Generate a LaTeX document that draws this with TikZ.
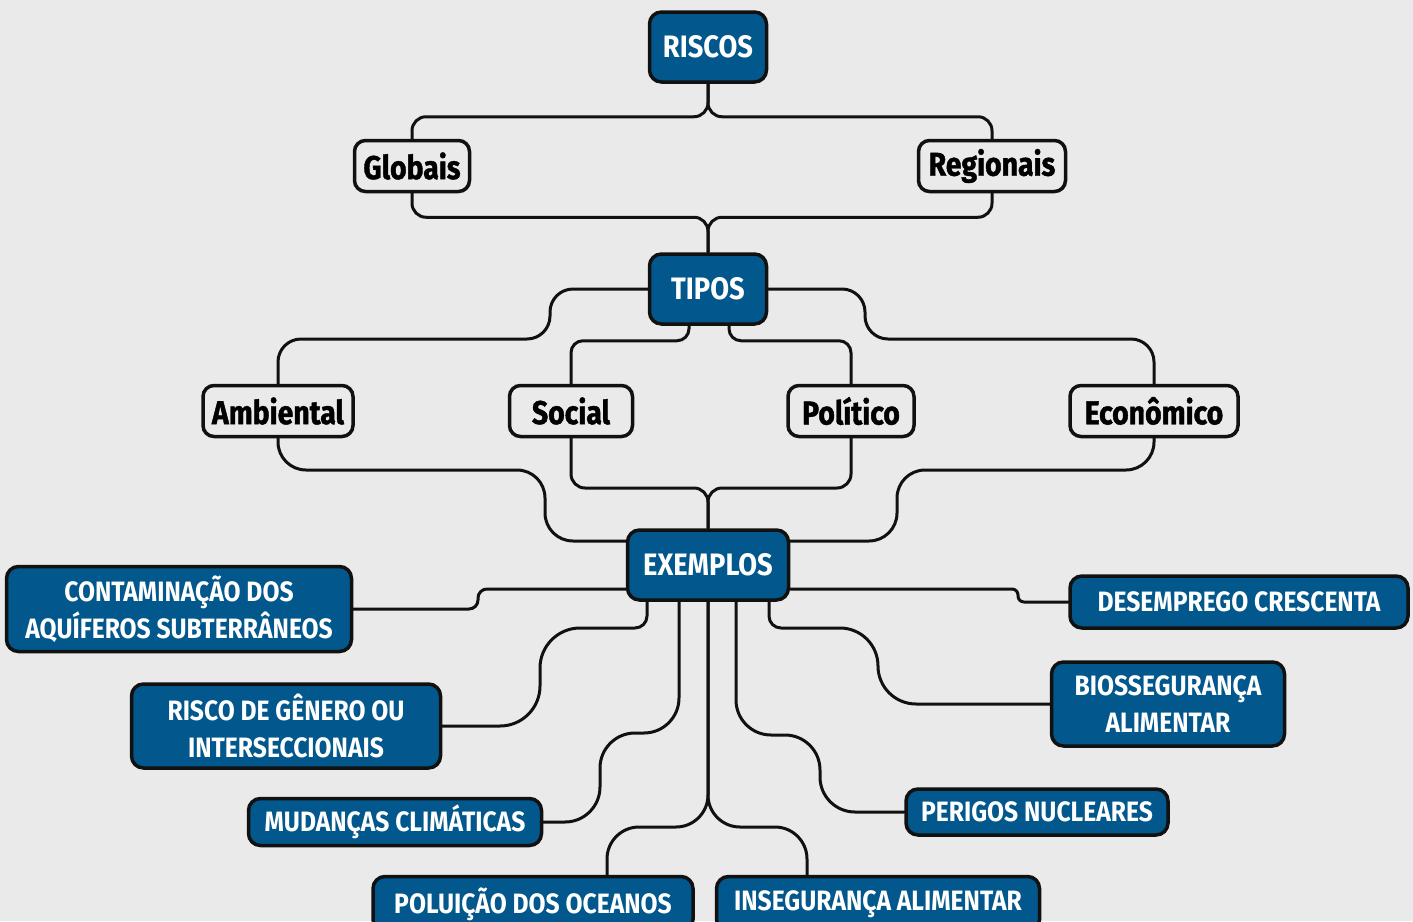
\documentclass[tikz,border=0pt]{standalone}
\usepackage{fontspec}
\usepackage{tikz}
\usetikzlibrary{positioning, calc}
\newfontfamily\boxfont[FakeStretch=0.88]{Fira Sans}
\newfontfamily\tagfont[FakeStretch=0.86, FakeBold=1.2]{Fira Sans}
\definecolor{riskBlue}{HTML}{02588C}
\definecolor{paperGray}{HTML}{EAEAEA}
\definecolor{lineBlack}{HTML}{111111}

\begin{document}
\begin{tikzpicture}[
    x=1pt, y=-1pt,
    hub/.style={draw=lineBlack, line width=3.5pt, rounded corners=12pt, fill=riskBlue, text=white, align=center, font=\boxfont\bfseries\fontsize{31}{37}\selectfont},
    item/.style={hub, font=\boxfont\bfseries\fontsize{28}{37}\selectfont},
    tag/.style={draw=lineBlack, line width=3.5pt, rounded corners=11pt, fill=paperGray, text=black, align=center, font=\tagfont\bfseries\fontsize{33}{37}\selectfont},
    link/.style={draw=lineBlack, line width=3pt, line cap=round},
]
    \clip (0,0) rectangle (1413,921);
    \fill[paperGray] (0,0) rectangle (1413,921);

    % Top levels
    \node[hub, minimum width=117pt, minimum height=70pt] (riscos) at (708,47) {RISCOS};
    \node[tag, minimum width=115pt, minimum height=51pt] (globais) at (412,166) {Globais};
    \node[tag, minimum width=147pt, minimum height=51pt] (regionais) at (992,166) {Regionais};
    \node[hub, minimum width=117pt, minimum height=70pt] (tipos) at (708,289) {TIPOS};

    % Types
    \node[tag, minimum width=150pt, minimum height=51pt] (ambiental) at (278,411) {Ambiental};
    \node[tag, minimum width=123pt, minimum height=51pt] (social) at (571,411) {Social};
    \node[tag, minimum width=126pt, minimum height=51pt] (politico) at (851,411) {Político};
    \node[tag, minimum width=168pt, minimum height=51pt] (economico) at (1154,411) {Econômico};

    \node[hub, minimum width=161pt, minimum height=70pt] (exemplos) at (708,565) {EXEMPLOS};

    % Examples
    \node[item, minimum width=345pt, minimum height=85pt] (contam) at (179,609) {CONTAMINAÇÃO DOS\\AQUÍFEROS SUBTERRÂNEOS};
    \node[item, minimum width=309pt, minimum height=84pt] (genero) at (286,726) {RISCO DE GÊNERO OU\\INTERSECCIONAIS};
    \node[item, minimum width=293pt, minimum height=47pt] (mudancas) at (395,822) {MUDANÇAS CLIMÁTICAS};
    \node[item, minimum width=320pt, minimum height=55pt] (poluicao) at (533,904) {POLUIÇÃO DOS OCEANOS};
    \node[item, minimum width=323pt, minimum height=55pt] (inseg) at (878,904) {INSEGURANÇA ALIMENTAR};
    \node[item, minimum width=338pt, minimum height=52pt] (desemp) at (1239,602) {DESEMPREGO CRESCENTA};
    \node[item, minimum width=233pt, minimum height=84pt] (bio) at (1168,704) {BIOSSEGURANÇA\\ALIMENTAR};
    \node[item, minimum width=262pt, minimum height=46pt] (perigos) at (1037,812) {PERIGOS NUCLEARES};

    % Connectors
    \draw[link, rounded corners=14pt] (riscos.south) -- ++(0,33) -| (globais.north);
    \draw[link, rounded corners=14pt] (riscos.south) -- ++(0,33) -| (regionais.north);
    \draw[link, rounded corners=14pt] (globais.south) -- ++(0,24) -| (tipos.north);
    \draw[link, rounded corners=14pt] (regionais.south) -- ++(0,24) -| (tipos.north);

    \draw[link, rounded corners=23pt] (tipos.west) -- (550,289) -- (550,339) -| (ambiental.north);
    \draw[link, rounded corners=12pt] ([xshift=-19pt]tipos.south) -- ++(0,15) -| (social.north);
    \draw[link, rounded corners=12pt] ([xshift=21pt]tipos.south) -- ++(0,15) -| (politico.north);
    \draw[link, rounded corners=23pt] (tipos.east) -- (865,289) -- (865,339) -| (economico.north);

    \draw[link, rounded corners=28pt] (ambiental.south) |- (545,470) |- ([yshift=24pt]exemplos.west);
    \draw[link, rounded corners=14pt] (social.south) -- (571,488) -| (exemplos.north);
    \draw[link, rounded corners=14pt] (politico.south) -- (851,488) -| (exemplos.north);
    \draw[link, rounded corners=28pt] (economico.south) |- (897,470) |- ([yshift=24pt]exemplos.east);

    \draw[link, rounded corners=9pt] ([yshift=-24pt]exemplos.west) -- (478,589) |- (contam.east);
    \draw[link, rounded corners=12pt] ([xshift=-61pt]exemplos.south) -- (647,628) [rounded corners=40pt] -- (540,628) |- (genero.east);
    \draw[link, rounded corners=35pt] ([xshift=-29pt]exemplos.south) -- (679,733) -- (600,733) |- (mudancas.east);
    \draw[link, rounded corners=32pt] (exemplos.south) -- (708,827) -| ([xshift=74pt]poluicao.north);
    \draw[link, rounded corners=32pt] (exemplos.south) -- (708,827) -| ([xshift=-71pt]inseg.north);
    \draw[link, rounded corners=35pt] ([xshift=28pt]exemplos.south) -- (736,735) -- (820,735) |- (perigos.west);
    \draw[link, rounded corners=12pt] ([xshift=61pt]exemplos.south) -- (769,628) [rounded corners=38pt] -- (878,628) |- (bio.west);
    \draw[link, rounded corners=6pt] ([yshift=-24pt]exemplos.east) -- (1018,589) |- (desemp.west);
\end{tikzpicture}
\end{document}
